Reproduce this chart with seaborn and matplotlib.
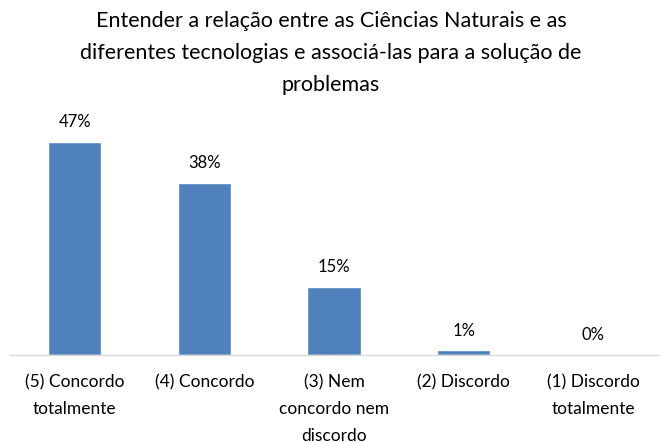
import pandas as pd
import seaborn as sns
import matplotlib.pyplot as plt

categories = ['(5) Concordo\ntotalmente', '(4) Concordo', '(3) Nem\nconcordo nem\ndiscordo',
              '(2) Discordo', '(1) Discordo\ntotalmente']
values = [47, 38, 15, 1, 0]
labels = ['47%', '38%', '15%', '1%', '0%']
title = 'Entender a relação entre as Ciências Naturais e as\ndiferentes tecnologias e associá-las para a solução de\nproblemas'

df = pd.DataFrame({'cat': categories, 'val': values})

sns.set_style('white')
plt.rcParams['font.family'] = ['Lato', 'DejaVu Sans']

fig = plt.figure(figsize=(6.62, 4.43), dpi=100)
ax = fig.add_axes([0.015, 0.1986, 0.979, 0.512])
sns.barplot(x='cat', y='val', data=df, color='#4F81BD', width=0.41, saturation=1, ax=ax)
ax.set_ylim(0, 50)
ax.set_xlim(-0.5, 4.5)

for i, (v, t) in enumerate(zip(values, labels)):
    ax.text(i, v + 4.4, t, ha='center', va='center', fontsize=12, color='#000000')

ax.set_xlabel('')
ax.set_ylabel('')
ax.set_yticks([])
ax.tick_params(axis='x', length=0, pad=14, labelsize=12.5, labelcolor='#000000')
for lbl in ax.get_xticklabels():
    lbl.set_linespacing(1.82)
for s in ['top', 'right', 'left']:
    ax.spines[s].set_visible(False)
ax.spines['bottom'].set_color('#D9D9D9')
ax.spines['bottom'].set_linewidth(1)

fig.suptitle(title, y=0.975, fontsize=15.5, linespacing=1.75, va='top', color='#000000')

fig.savefig('out.png', dpi=100)
